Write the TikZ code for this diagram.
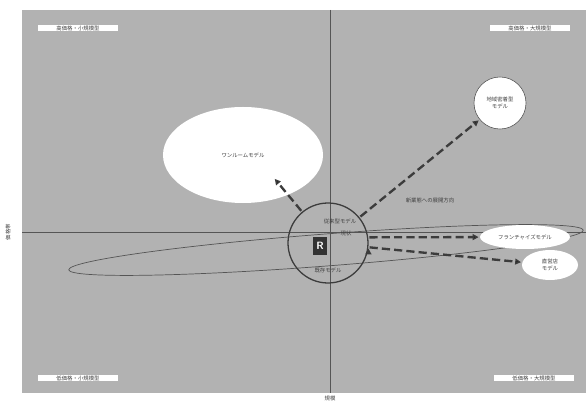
\documentclass[tikz,border=0pt]{standalone}
\usepackage{fontspec}
\newfontfamily\jpfont{Noto Sans CJK JP}
\usetikzlibrary{arrows.meta}
\usetikzlibrary{calc}
\usetikzlibrary{shapes.geometric}

\definecolor{bggray}{RGB}{178,178,178}
\definecolor{linegray}{RGB}{85,85,85}
\definecolor{arrowgray}{RGB}{60,60,60}

\tikzset{
  lbl/.style={font=\jpfont\fontsize{4.6}{5.6}\selectfont, text=black!75, align=center},
  cornerbox/.style={lbl, fill=white, minimum width=2.4cm, minimum height=0.2cm, inner sep=0.5pt},
  model/.style={lbl, ellipse, fill=white, inner sep=0pt},
  dasharrow/.style={-{Triangle[length=5pt,width=5pt]}, line width=2pt,
    dash pattern=on 7pt off 3.5pt, draw=arrowgray, shorten >=1pt, shorten <=1pt},
}

\begin{document}
\begin{tikzpicture}[x=0.03cm,y=-0.03cm]
\useasboundingbox (0,0) rectangle (586,401);
\fill[bggray] (22,10) rectangle (586,393);

% axes
\coordinate (ytop) at (330,10);
\coordinate (ybot) at (330,393);
\coordinate (xleft) at (22,232);
\coordinate (xright) at (586,232);
\draw[linegray, line width=0.6pt] (ytop) -- (ybot);
\draw[linegray, line width=0.6pt] (xleft) -- (xright);
\node[lbl, rotate=90] (yaxis) at (8,232) {価格帯};
\node[lbl] (xaxis) at (330,398) {規模};

% quadrant labels
\node[cornerbox] (q1) at (78,28) {高価格・小規模型};
\node[cornerbox] (q2) at (530,28) {高価格・大規模型};
\node[cornerbox] (q3) at (78,378) {低価格・小規模型};
\node[cornerbox] (q4) at (534,378) {低価格・大規模型};

% range of current business
\node[draw=linegray, line width=0.6pt, ellipse, minimum width=15.48cm, minimum height=0.96cm,
  rotate=4.4] (range) at (326,250) {};

% models
\node[model, minimum width=4.8cm, minimum height=2.88cm] (oneroom) at (243,155) {ワンルームモデル};
\coordinate (oneroomtip) at (274,178);
\node[model, circle, draw=linegray, line width=0.5pt, minimum size=1.56cm] (local) at (500,103)
  {地域密着型\\モデル};
\node[model, minimum width=2.7cm, minimum height=0.72cm] (franchise) at (525,237) {フランチャイズモデル};
\node[model, minimum width=1.68cm, minimum height=0.9cm] (direct) at (550,265) {直営店\\モデル};

% current position
\node[circle, draw=arrowgray, line width=1.1pt, minimum size=2.4cm] (ctr) at (328,243) {};
\node[fill=black!80, text=white, font=\sffamily\bfseries\fontsize{9}{9}\selectfont,
  minimum width=0.42cm, minimum height=0.54cm, inner sep=0pt] (rbox) at (320,246) {R};
\node[lbl] (cur1) at (340,221) {従来型モデル};
\node[lbl] (cur2) at (346,233) {現状};
\node[lbl] (cur3) at (328,270) {既存モデル};
\node[lbl] (dirlbl) at (430,200) {新業態への展開方向};

\path[dasharrow]
(ctr) edge (oneroomtip)
      edge (local)
(ctr.8) edge (franchise)
(ctr.-6) edge (direct)
;
\end{tikzpicture}
\end{document}
